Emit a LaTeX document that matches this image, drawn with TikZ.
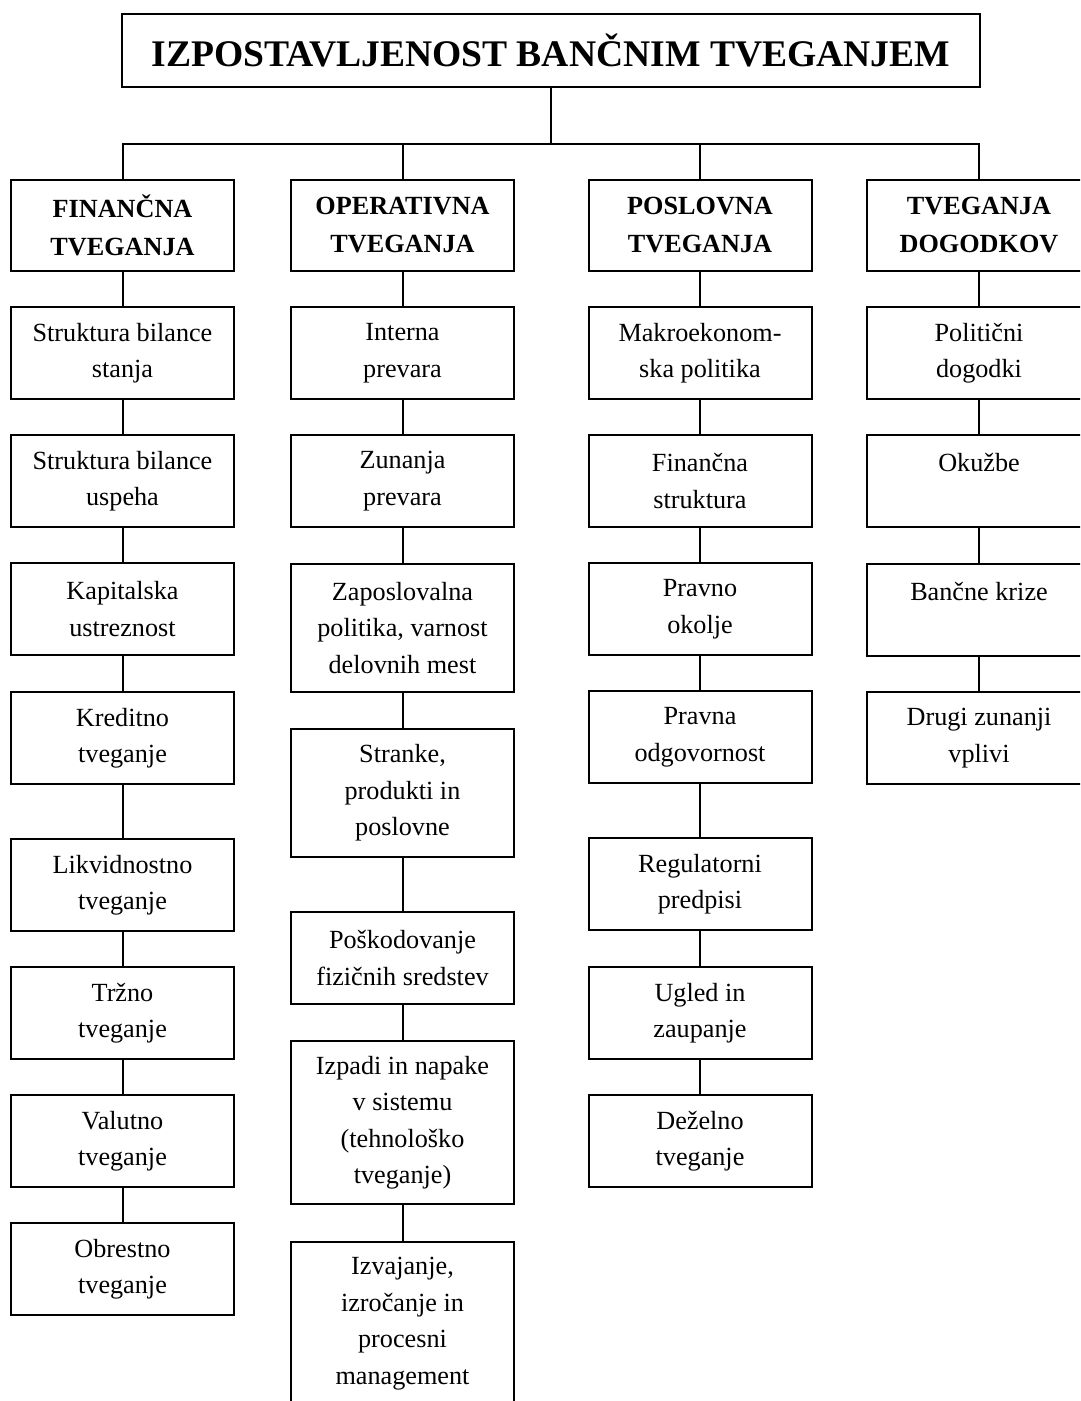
\documentclass[tikz,border=0pt]{standalone}
\usepackage{fontspec}
\setmainfont{Liberation Serif}
\begin{document}
\begin{tikzpicture}[x=1pt,y=-1pt,
  bx/.style={draw, line width=2pt, inner sep=0pt, minimum width=223pt, minimum height=92pt, align=center, font=\fontsize{26.2}{36.5}\selectfont},
  cat/.style={bx, minimum height=91pt, font=\fontsize{26.2}{38}\selectfont\bfseries},
  ln/.style={line width=2pt}]
\useasboundingbox (0,0) rectangle (1080,1401);
\clip (0,0) rectangle (1080,1401);

\node[draw, line width=2pt, inner sep=0pt, minimum width=858pt, minimum height=73pt, font=\fontsize{37.6}{44}\selectfont\bfseries] (t) at (551,50.5) {IZPOSTAVLJENOST BANČNIM TVEGANJEM};

\node[cat] (c1) at (122.5,225.5) {FINANČNA\\TVEGANJA};
\node[cat] (c2) at (402.5,225.5) {OPERATIVNA\\TVEGANJA};
\node[cat] (c3) at (700,225.5) {POSLOVNA\\TVEGANJA};
\node[cat, minimum width=224pt] (c4) at (979,225.5) {TVEGANJA\\DOGODKOV};

\coordinate (hb) at (551,144);
\draw[ln] (t.south) -- (hb);
\draw[ln] (c1.north) |- (hb) -| (c4.north);
\draw[ln] (c2.north) -- (c2.north |- hb);
\draw[ln] (c3.north) -- (c3.north |- hb);

% column 1
\node[bx] (a1) at (122.5,353) {Struktura bilance\\stanja};
\node[bx] (a2) at (122.5,481) {Struktura bilance\\uspeha};
\node[bx] (a3) at (122.5,609) {Kapitalska\\ustreznost};
\node[bx] (a4) at (122.5,738) {Kreditno\\tveganje};
\node[bx] (a5) at (122.5,885) {Likvidnostno\\tveganje};
\node[bx] (a6) at (122.5,1013) {Tržno\\tveganje};
\node[bx] (a7) at (122.5,1141) {Valutno\\tveganje};
\node[bx] (a8) at (122.5,1269) {Obrestno\\tveganje};

% column 2
\node[bx] (b1) at (402.5,353) {Interna\\prevara};
\node[bx] (b2) at (402.5,481) {Zunanja\\prevara};
\node[bx, minimum height=128pt] (b3) at (402.5,628) {Zaposlovalna\\politika, varnost\\delovnih mest};
\node[bx, minimum height=128pt] (b4) at (402.5,793) {Stranke,\\produkti in\\poslovne};
\node[bx] (b5) at (402.5,958) {Poškodovanje\\fizičnih sredstev};
\node[bx, minimum height=163pt] (b6) at (402.5,1122.5) {Izpadi in napake\\v sistemu\\(tehnološko\\tveganje)};
\node[bx, minimum height=163pt] (b7) at (402.5,1323.5) {Izvajanje,\\izročanje in\\procesni\\management};

% column 3
\node[bx] (d1) at (700,353) {Makroekonom-\\ska politika};
\node[bx] (d2) at (700,481) {Finančna\\struktura};
\node[bx] (d3) at (700,609) {Pravno\\okolje};
\node[bx] (d4) at (700,737) {Pravna\\odgovornost};
\node[bx] (d5) at (700,884) {Regulatorni\\predpisi};
\node[bx] (d6) at (700,1013) {Ugled in\\zaupanje};
\node[bx] (d7) at (700,1141) {Deželno\\tveganje};

% column 4
\node[bx, minimum width=224pt] (e1) at (979,353) {Politični\\dogodki};
\node[bx, minimum width=224pt] (e2) at (979,481) {Okužbe\\\mbox{}};
\node[bx, minimum width=224pt] (e3) at (979,609.5) {Bančne krize\\\mbox{}};
\node[bx, minimum width=224pt] (e4) at (979,738) {Drugi zunanji\\vplivi};

\foreach \u/\v in {c1/a1,a1/a2,a2/a3,a3/a4,a4/a5,a5/a6,a6/a7,a7/a8,
                   c2/b1,b1/b2,b2/b3,b3/b4,b4/b5,b5/b6,b6/b7,
                   c3/d1,d1/d2,d2/d3,d3/d4,d4/d5,d5/d6,d6/d7,
                   c4/e1,e1/e2,e2/e3,e3/e4}
  \draw[ln] (\u.south) -- (\v.north);
\end{tikzpicture}
\end{document}
